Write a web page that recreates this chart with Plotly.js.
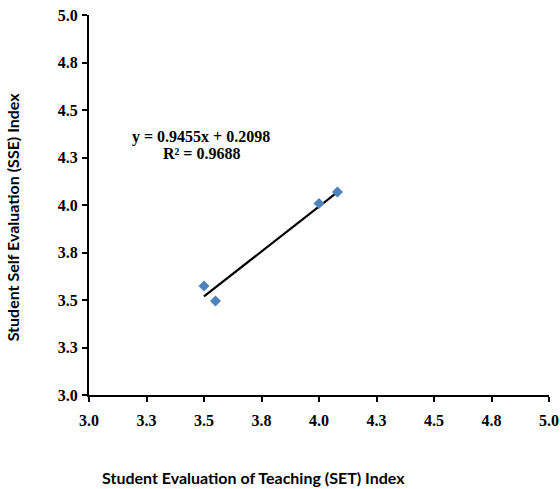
<!DOCTYPE html>
<html>
<head>
<meta charset="utf-8">
<script src="https://cdn.plot.ly/plotly-3.0.1.min.js"></script>
<style>html,body{margin:0;padding:0;background:#fff;}</style>
</head>
<body>
<div id="chart" style="width:560px;height:489px;"></div>
<script>
const setIndex = [3.5, 3.55, 4.0, 4.08];
const sseIndex = [3.574, 3.495, 4.008, 4.068];
const slope = 0.9455;
const intercept = 0.2098;
const tickVals = [3.0, 3.25, 3.5, 3.75, 4.0, 4.25, 4.5, 4.75, 5.0];
const tickText = ["3.0", "3.3", "3.5", "3.8", "4.0", "4.3", "4.5", "4.8", "5.0"];
const eqText = "y = 0.9455x + 0.2098";
const r2Text = "R\u00b2 = 0.9688";
const xTitle = "Student Evaluation of Teaching (SET) Index";
const yTitle = "Student Self Evaluation (SSE) Index";

const xMin = Math.min(...setIndex), xMax = Math.max(...setIndex);
const trendX = [xMin, xMax];
const trendY = trendX.map(v => slope * v + intercept);

const serif = "Liberation Serif";
function serifFont() { return {family: serif, size: 16, color: "#000", weight: "bold"}; }
function makeAxis(standoff) {
  return {
    range: [3.0, 5.0],
    tickmode: "array",
    tickvals: tickVals,
    ticktext: tickText,
    showgrid: false,
    zeroline: false,
    showline: true,
    linecolor: "#000",
    linewidth: 2,
    ticks: "outside",
    ticklen: 5,
    tickwidth: 2,
    tickcolor: "#000",
    tickfont: serifFont(),
    ticklabelstandoff: standoff,
    fixedrange: true
  };
}

const data = [
  {x: trendX, y: trendY, mode: "lines", line: {color: "#000", width: 2.2}, hoverinfo: "skip", showlegend: false},
  {x: setIndex, y: sseIndex, mode: "markers", marker: {symbol: "diamond", size: 8.5, color: "#4F81BD"}, showlegend: false}
];

function titleFont() { return {family: "Lato", size: 16, color: "#000", weight: "bold"}; }
const layout = {
  width: 560, height: 489,
  font: {family: serif, size: 16, color: "#000"},
  margin: {l: 89, r: 11, t: 15, b: 94},
  paper_bgcolor: "#fff", plot_bgcolor: "#fff",
  xaxis: makeAxis(5),
  yaxis: makeAxis(1),
  annotations: [
    {text: xTitle, xref: "paper", yref: "paper", x: 0.357, y: -0.216, showarrow: false, font: titleFont(), xanchor: "center", yanchor: "middle"},
    {text: yTitle, xref: "paper", yref: "paper", x: -0.167, y: 0.468, showarrow: false, font: titleFont(), textangle: -90, xanchor: "center", yanchor: "middle"},
    {text: eqText, xref: "x", yref: "y", x: 3.487, y: 4.36, showarrow: false, font: serifFont(), xanchor: "center", yanchor: "middle"},
    {text: r2Text, xref: "x", yref: "y", x: 3.491, y: 4.272, showarrow: false, font: serifFont(), xanchor: "center", yanchor: "middle"}
  ]
};

Plotly.newPlot("chart", data, layout, {staticPlot: true});
</script>
</body>
</html>
